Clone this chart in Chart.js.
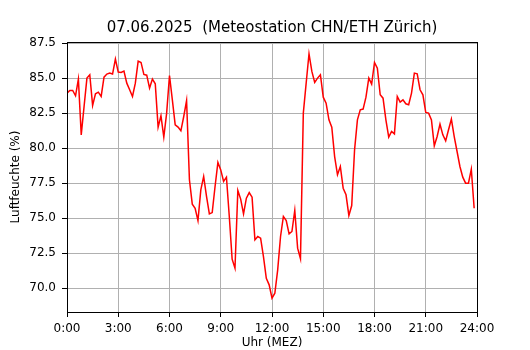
<!DOCTYPE html>
<html>
<head>
<meta charset="utf-8">
<script src="https://cdn.jsdelivr.net/npm/chart.js@4"></script>
<style>
    html, body { margin: 0; padding: 0; background: #fff; }
    canvas { display: block; }
</style>
</head>
<body>
<canvas id="humChart" width="530" height="350"></canvas>
<script>
// Luftfeuchte, 10-Minuten-Werte ab 0:00
const humidity = [
    83.93, 84.12, 84.12, 83.74, 84.93, 80.95, 82.98, 85.00, 85.24, 83.05, 83.88, 84.00,
    83.69, 85.07, 85.29, 85.36, 85.29, 86.36, 85.43, 85.40, 85.50, 84.64, 84.17, 83.69,
    84.64, 86.21, 86.12, 85.26, 85.21, 84.29, 84.93, 84.60, 81.50, 82.31, 80.79, 82.50,
    85.19, 83.45, 81.67, 81.50, 81.24, 82.26, 83.40, 77.74, 76.00, 75.71, 74.83, 77.02,
    77.98, 76.55, 75.31, 75.40, 77.26, 78.98, 78.45, 77.62, 77.93, 75.12, 72.07, 71.43,
    76.98, 76.36, 75.31, 76.43, 76.83, 76.50, 73.45, 73.69, 73.57, 72.26, 70.71, 70.24,
    69.29, 69.64, 71.31, 73.69, 75.12, 74.83, 73.88, 74.05, 75.55, 72.86, 72.10, 82.50,
    84.64, 86.74, 85.48, 84.69, 85.00, 85.24, 83.64, 83.21, 82.02, 81.50, 79.40, 78.10,
    78.69, 77.14, 76.67, 75.19, 75.90, 79.88, 82.02, 82.74, 82.79, 83.64, 85.00, 84.57,
    86.12, 85.71, 83.81, 83.57, 82.02, 80.79, 81.19, 81.02, 83.69, 83.29, 83.45, 83.17,
    83.10, 83.93, 85.36, 85.31, 84.17, 83.81, 82.55, 82.50, 82.02, 80.17, 80.83, 81.71,
    80.95, 80.52, 81.31, 82.07, 80.83, 79.76, 78.69, 77.93, 77.50, 77.50, 78.50, 75.71
];
const stepMinutes = 10;
const hourTicks = [0, 3, 6, 9, 12, 15, 18, 21, 24];
const humTicks = [70.0, 72.5, 75.0, 77.5, 80.0, 82.5, 85.0, 87.5];
const titleText = '07.06.2025  (Meteostation CHN/ETH Zürich)';

Chart.defaults.font.family = "'DejaVu Sans', sans-serif";
Chart.defaults.font.size = 12;
Chart.defaults.color = '#000';

const points = humidity.map((v, i) => ({ x: i * stepMinutes / 60, y: v }));

// Titel ueber der Plotflaeche + Rahmen rundum
const framePlugin = {
    id: 'frame',
    afterDatasetsDraw(chart) {
        const { ctx, chartArea: a } = chart;
        ctx.save();
        ctx.strokeStyle = '#000';
        ctx.lineWidth = 1;
        ctx.strokeRect(Math.round(a.left) + 0.5, Math.round(a.top) + 0.5,
            Math.round(a.right - a.left), Math.round(a.bottom - a.top));
        ctx.font = "15px 'DejaVu Sans', sans-serif";
        ctx.fillStyle = '#000';
        ctx.textAlign = 'center';
        ctx.textBaseline = 'middle';
        ctx.fillText(titleText, (a.left + a.right) / 2, 28);
        ctx.restore();
    }
};

new Chart(document.getElementById('humChart'), {
    type: 'line',
    data: {
        datasets: [{
            data: points,
            borderColor: '#ff0000',
            borderWidth: 1.5,
            pointRadius: 0,
            tension: 0,
            fill: false
        }]
    },
    options: {
        responsive: false,
        animation: false,
        devicePixelRatio: 1,
        layout: { padding: { top: 42, right: 53, left: 0, bottom: 0 } },
        plugins: { legend: { display: false }, tooltip: { enabled: false } },
        scales: {
            x: {
                type: 'linear', min: 0, max: 24,
                afterBuildTicks: s => { s.ticks = hourTicks.map(v => ({ value: v })); },
                afterFit: s => { s.height = 38; },
                ticks: { callback: v => v + ':00', padding: 5, maxRotation: 0, autoSkip: false },
                grid: { color: '#b0b0b0', lineWidth: 1, tickColor: '#000', tickLength: 5, tickWidth: 1 },
                border: { color: '#000', width: 1 },
                title: { display: true, text: 'Uhr (MEZ)', padding: { top: 1, bottom: 0 } }
            },
            y: {
                min: 68.3, max: 87.58,
                afterBuildTicks: s => { s.ticks = humTicks.map(v => ({ value: v })); },
                afterFit: s => { s.width = 67; },
                ticks: { callback: v => v.toFixed(1), padding: 6, autoSkip: false },
                grid: { color: '#b0b0b0', lineWidth: 1, tickColor: '#000', tickLength: 5, tickWidth: 1 },
                border: { color: '#000', width: 1 },
                title: { display: true, text: 'Luftfeuchte (%)', padding: { top: 9, bottom: 0 } }
            }
        }
    },
    plugins: [framePlugin]
});
</script>
</body>
</html>
